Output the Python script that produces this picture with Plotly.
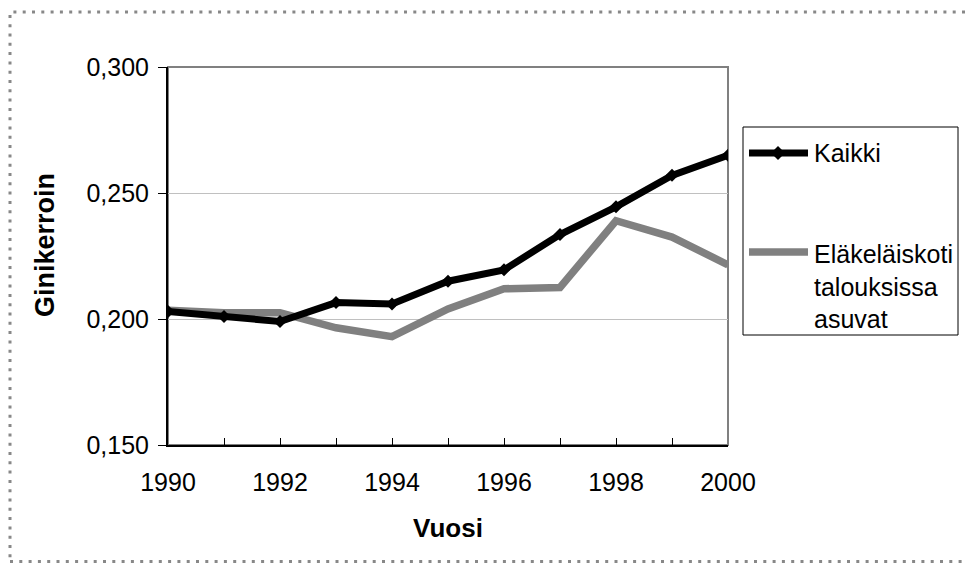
import plotly.graph_objects as go

years = [1990, 1991, 1992, 1993, 1994, 1995, 1996, 1997, 1998, 1999, 2000]
kaikki = [0.203, 0.201, 0.199, 0.2065, 0.206, 0.215, 0.2195, 0.2335, 0.2445, 0.257, 0.265]
elakelaiset = [0.2035, 0.2025, 0.2025, 0.1965, 0.193, 0.204, 0.212, 0.2125, 0.239, 0.2325, 0.2215]
series_names = ["Kaikki", "Eläkeläiskoti<br>talouksissa<br>asuvat"]
x_tick_labels = [str(y) if y % 2 == 0 else "" for y in years]
y_tick_vals = [0.150, 0.200, 0.250, 0.300]
y_tick_labels = ["0,150", "0,200", "0,250", "0,300"]
x_title = "Vuosi"
y_title = "Ginikerroin"

W, H = 967, 563
L, R, T, B = 168, 728, 67, 445
FONT = "Arial, Liberation Sans, sans-serif"

def fx(px):
    return (px - L) / (R - L)

def fy(py):
    return (B - py) / (B - T)

fig = go.Figure()
fig.add_trace(go.Scatter(x=years, y=elakelaiset, mode="lines",
                         line=dict(color="#808080", width=7.5), showlegend=False))
fig.add_trace(go.Scatter(x=years, y=kaikki, mode="lines+markers",
                         line=dict(color="#000000", width=7),
                         marker=dict(symbol="diamond", size=10, color="#000000"),
                         showlegend=False))

shapes = []
shapes.append(dict(type="rect", xref="paper", yref="paper", x0=0, x1=1, y0=0, y1=1,
                   line=dict(color="#808080", width=2), layer="below"))
shapes.append(dict(type="rect", xref="paper", yref="paper",
                   x0=fx(10), x1=fx(980), y0=fy(561.5), y1=fy(12),
                   line=dict(color="#888888", width=3, dash="3px,6.3px")))
lx0, lx1, ly0, ly1 = 743, 958, 127, 335
shapes.append(dict(type="rect", xref="paper", yref="paper",
                   x0=fx(lx0), x1=fx(lx1), y0=fy(ly1), y1=fy(ly0),
                   line=dict(color="#000000", width=1)))
shapes.append(dict(type="line", xref="paper", yref="paper",
                   x0=fx(749), x1=fx(808), y0=fy(153), y1=fy(153),
                   line=dict(color="#000000", width=7)))
cx, cy, d = 778, 153, 7
path = "M{},{} L{},{} L{},{} L{},{} Z".format(
    fx(cx), fy(cy - d), fx(cx + d), fy(cy), fx(cx), fy(cy + d), fx(cx - d), fy(cy))
shapes.append(dict(type="path", xref="paper", yref="paper", path=path,
                   fillcolor="#000000", line=dict(color="#000000", width=0)))
shapes.append(dict(type="line", xref="paper", yref="paper",
                   x0=fx(749), x1=fx(808), y0=fy(252), y1=fy(252),
                   line=dict(color="#808080", width=7.5)))

annotations = [
    dict(text=series_names[0], xref="paper", yref="paper", x=fx(812), y=fy(153),
         xanchor="left", yanchor="middle", showarrow=False, align="left",
         font=dict(family=FONT, size=25, color="#000000")),
    dict(text=series_names[1], xref="paper", yref="paper", x=fx(812), y=fy(238),
         xanchor="left", yanchor="top", showarrow=False, align="left",
         font=dict(family=FONT, size=25, color="#000000")),
    dict(text="<b>" + y_title + "</b>", xref="paper", yref="paper", x=fx(45), y=fy(245),
         xanchor="center", yanchor="middle", showarrow=False, textangle=-90,
         font=dict(family=FONT, size=27, color="#000000")),
]

fig.update_layout(
    width=W, height=H,
    margin=dict(l=L, r=W - R, t=T, b=H - B, pad=0),
    paper_bgcolor="#ffffff", plot_bgcolor="#ffffff",
    font=dict(family=FONT, size=25, color="#000000"),
    showlegend=False,
    shapes=shapes,
    annotations=annotations,
    xaxis=dict(range=[1990, 2000], tickmode="array", tickvals=years, ticktext=x_tick_labels,
               ticks="inside", ticklen=7, tickwidth=1, tickcolor="#000000",
               showline=True, linecolor="#000000", linewidth=2,
               showgrid=False, zeroline=False, ticklabelstandoff=14,
               title=dict(text="<b>" + x_title + "</b>", standoff=24,
                          font=dict(family=FONT, size=26))),
    yaxis=dict(range=[0.150, 0.300], tickmode="array", tickvals=y_tick_vals, ticktext=y_tick_labels,
               ticks="outside", ticklen=8, tickwidth=1, tickcolor="#000000",
               showline=True, linecolor="#000000", linewidth=2,
               showgrid=True, gridcolor="#c0c0c0", gridwidth=1, zeroline=False,
               ticklabelstandoff=4),
)

fig.write_html("out.html", config={"displayModeBar": False},
               post_script="document.body.style.margin='0';document.body.style.overflow='hidden';")
